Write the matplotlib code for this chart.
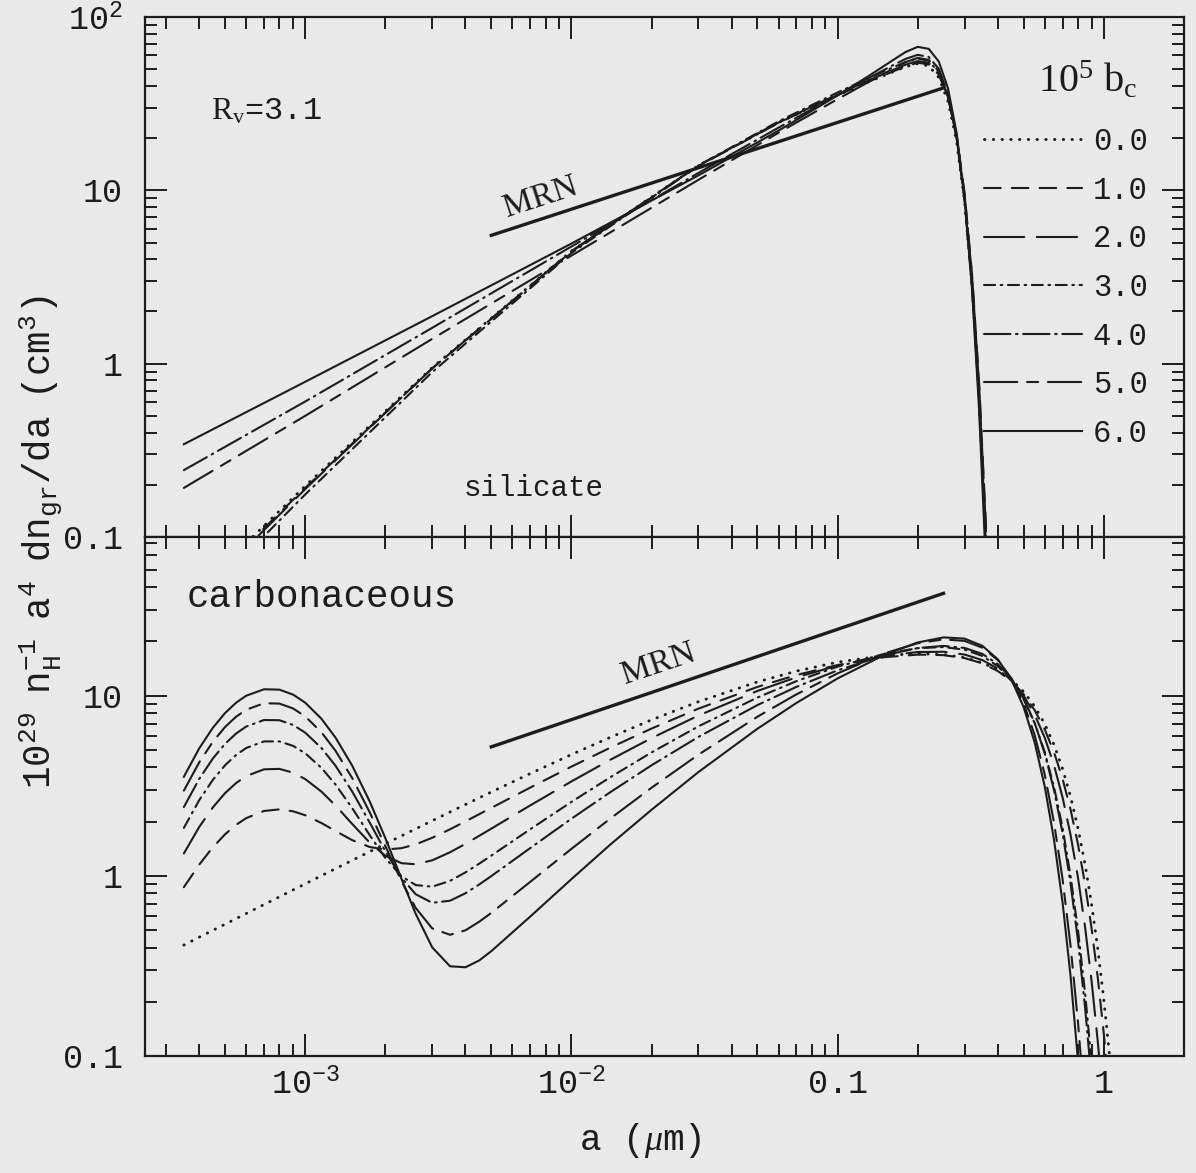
import matplotlib
matplotlib.use("Agg")
import matplotlib.pyplot as plt
from matplotlib.ticker import FixedLocator, FixedFormatter, LogLocator, NullFormatter

plt.rcParams.update({
    "font.family": "Liberation Mono",
    "mathtext.fontset": "custom",
    "mathtext.rm": "Liberation Serif",
    "mathtext.it": "Liberation Serif:italic",
    "mathtext.tt": "Liberation Mono",
    "mathtext.bf": "Liberation Serif:bold",
    "lines.scale_dashes": False,
    "axes.linewidth": 1.6,
})
INK = "#1c1c1c"
PAPER = "#e9e9e9"

# ---- silicate panel (grain radius in micron) ----
a_sil = [3.5e-4, 1e-3, 3e-3, 1e-2, 3e-2, 0.06, 0.1, 0.13, 0.16, 0.18, 0.2,
         0.22, 0.24, 0.26, 0.28, 0.3, 0.32, 0.34, 0.36, 0.38]
sil_00 = [0.0413, 0.197, 0.949, 4.46, 13.9, 24.6, 35.4, 42.1, 48.0, 51.6, 53.9,
          52.2, 44.8, 32.5, 19.1, 8.58, 2.84, 0.655, 0.101, 0.0099]
sil_10 = [0.0396, 0.192, 0.939, 4.43, 13.8, 24.5, 35.4, 42.2, 48.2, 51.9, 54.5,
          53.3, 46.5, 34.4, 20.7, 9.58, 3.28, 0.786, 0.126, 0.013]
sil_20 = [0.0379, 0.189, 0.940, 4.46, 13.9, 24.6, 35.8, 42.9, 49.2, 53.1, 55.7,
          54.4, 47.2, 34.7, 20.6, 9.45, 3.18, 0.751, 0.119, 0.0119]
sil_30 = [0.0345, 0.176, 0.894, 4.35, 13.9, 25.0, 36.7, 44.1, 50.9, 55.0, 57.6,
          55.9, 47.9, 34.6, 20.1, 8.97, 2.93, 0.666, 0.101, 0.0096]
sil_40 = [0.243, 0.605, 1.61, 4.74, 12.6, 23.0, 35.5, 44.2, 52.3, 57.3, 60.5,
          58.8, 50.2, 35.9, 20.5, 8.96, 2.84, 0.625, 0.091, 0.0083]
sil_50 = [0.192, 0.50, 1.39, 4.20, 11.5, 21.5, 33.6, 42.0, 49.9, 54.9, 58.1,
          56.6, 48.4, 34.7, 19.9, 8.7, 2.77, 0.61, 0.089, 0.008]
sil_60 = [0.343, 0.786, 1.88, 4.93, 12.2, 22.1, 35.3, 45.4, 55.9, 62.8, 67.3,
          65.5, 55.3, 38.7, 21.4, 8.90, 2.66, 0.545, 0.073, 0.0061]

# ---- carbonaceous panel ----
a_carb = [3.5e-4, 4e-4, 4.5e-4, 5e-4, 5.5e-4, 6e-4, 7e-4, 8e-4, 9e-4, 1e-3,
          1.15e-3, 1.3e-3, 1.5e-3, 1.75e-3, 2e-3, 2.3e-3, 2.6e-3, 3e-3, 3.5e-3,
          4e-3, 4.5e-3, 5e-3, 7e-3, 1e-2, 1.4e-2, 2e-2, 3e-2, 5e-2, 7e-2, 0.1, 0.15,
          0.2, 0.25, 0.3, 0.35, 0.4, 0.45, 0.5, 0.55, 0.6, 0.65, 0.7, 0.75, 0.8,
          0.85, 0.9, 0.95, 1.0, 1.05, 1.1]
carb_00 = [0.413, 0.457, 0.499, 0.539, 0.579, 0.618, 0.693, 0.765, 0.835, 0.903,
           1.002, 1.097, 1.219, 1.365, 1.506, 1.668, 1.824, 2.024, 2.262,
           2.490, 2.709, 2.919, 3.695, 4.712, 5.877, 7.34, 9.26, 11.93, 13.69, 15.35, 16.72,
           17.13, 16.92, 16.26, 15.22, 13.86, 12.26, 10.53, 8.73, 6.97, 5.35, 3.93, 2.76, 1.84,
           1.163, 0.695, 0.391, 0.206, 0.102, 0.047]
carb_10 = [0.865, 1.156, 1.443, 1.702, 1.920, 2.091, 2.292, 2.339, 2.283, 2.170,
           1.966, 1.774, 1.580, 1.445, 1.401, 1.425, 1.496, 1.627, 1.814,
           2.007, 2.198, 2.384, 3.089, 4.04, 5.147, 6.572, 8.475, 11.19, 13.02, 14.80, 16.36,
           16.90, 16.79, 16.17, 15.12, 13.70, 12.02, 10.19, 8.31, 6.50, 4.86, 3.46, 2.34, 1.497,
           0.902, 0.51, 0.27, 0.133, 0.061, 0.025]
carb_20 = [1.331, 1.871, 2.402, 2.880, 3.276, 3.578, 3.903, 3.924, 3.741, 3.446,
           2.938, 2.457, 1.945, 1.525, 1.293, 1.176, 1.160, 1.220, 1.352,
           1.506, 1.667, 1.828, 2.460, 3.343, 4.409, 5.816, 7.76, 10.63, 12.64, 14.69, 16.64,
           17.48, 17.53, 16.92, 15.76, 14.13, 12.15, 10.01, 7.85, 5.85, 4.12, 2.73, 1.69, 0.978,
           0.524, 0.26, 0.119, 0.05, 0.019, 0.007]
carb_30 = [1.846, 2.637, 3.415, 4.113, 4.689, 5.124, 5.577, 5.574, 5.267, 4.791,
           3.979, 3.211, 2.382, 1.676, 1.256, 0.995, 0.889, 0.871, 0.938,
           1.046, 1.168, 1.295, 1.814, 2.573, 3.527, 4.844, 6.76, 9.77, 12.04, 14.49, 17.08,
           18.35, 18.62, 18.0, 16.61, 14.58, 12.13, 9.54, 7.05, 4.86, 3.12, 1.85, 1.0, 0.50,
           0.226, 0.092, 0.034, 0.011, 0.003, 0.001]
carb_40 = [2.409, 3.456, 4.485, 5.408, 6.168, 6.741, 7.329, 7.309, 6.884, 6.235,
           5.129, 4.082, 2.946, 1.967, 1.369, 0.977, 0.791, 0.709, 0.728,
           0.801, 0.895, 0.997, 1.426, 2.076, 2.915, 4.11, 5.905, 8.87, 11.19, 13.83, 16.76,
           18.38, 18.9, 18.41, 17.05, 14.96, 12.41, 9.68, 7.06, 4.79, 3.0, 1.73, 0.91, 0.436,
           0.188, 0.073, 0.025, 0.008, 0.002, 0.0005]
carb_50 = [2.972, 4.275, 5.556, 6.703, 7.647, 8.356, 9.080, 9.042, 8.498, 7.673,
           6.272, 4.944, 3.498, 2.242, 1.463, 0.934, 0.664, 0.511, 0.471,
           0.499, 0.556, 0.623, 0.926, 1.412, 2.080, 3.084, 4.706, 7.645, 10.17, 13.30, 17.17,
           19.56, 20.54, 20.14, 18.46, 15.76, 12.46, 9.08, 6.05, 3.65, 1.98, 0.96, 0.41, 0.154,
           0.05, 0.014, 0.003, 0.0006, 0.0001, 0.00002]
carb_60 = [3.548, 5.109, 6.643, 8.016, 9.146, 9.994, 10.855, 10.803, 10.143, 9.146,
           7.455, 5.850, 4.100, 2.574, 1.620, 0.963, 0.616, 0.401, 0.315,
           0.311, 0.339, 0.382, 0.594, 0.959, 1.492, 2.327, 3.768, 6.558, 9.109, 12.47, 16.85,
           19.75, 21.07, 20.74, 18.91, 15.90, 12.28, 8.64, 5.50, 3.137, 1.59, 0.713, 0.279, 0.094,
           0.027, 0.007, 0.0015, 0.0003, 0.00005, 0.00001]

# MRN reference power laws
mrn_a = [0.005, 0.25]
mrn_sil = [5.5, 39.0]
mrn_carb = [5.2, 37.0]

bc_labels = ["0.0", "1.0", "2.0", "3.0", "4.0", "5.0", "6.0"]
dash_styles = [(0, (0.3, 6.0)), (0, (12, 8)), (0, (29, 9)), (0, (8, 4, 1.2, 4)),
               (0, (19, 4, 1.2, 4)), (0, (24, 7, 8, 7)), "-"]
line_widths = [2.1, 1.5, 1.5, 1.5, 1.5, 1.5, 1.5]

sil_series = [sil_00, sil_10, sil_20, sil_30, sil_40, sil_50, sil_60]
carb_series = [carb_00, carb_10, carb_20, carb_30, carb_40, carb_50, carb_60]

fig = plt.figure(figsize=(11.96, 11.73), dpi=100, facecolor=PAPER)
ax1 = fig.add_axes([0.1212, 0.5422, 0.8687, 0.4433])
ax2 = fig.add_axes([0.1212, 0.0997, 0.8687, 0.4425])

handles = []
for vals, ls, w in zip(sil_series, dash_styles, line_widths):
    h, = ax1.plot(a_sil, vals, ls=ls, color=INK, lw=w, dash_capstyle="round")
    handles.append(h)
for vals, ls, w in zip(carb_series, dash_styles, line_widths):
    ax2.plot(a_carb, vals, ls=ls, color=INK, lw=w, dash_capstyle="round")
ax1.plot(mrn_a, mrn_sil, "-", color=INK, lw=2.4)
ax2.plot(mrn_a, mrn_carb, "-", color=INK, lw=2.4)

for ax in (ax1, ax2):
    ax.set_facecolor(PAPER)
    ax.set_xscale("log")
    ax.set_yscale("log")
    ax.set_xlim(2.5e-4, 2.0)
    for s in ax.spines.values():
        s.set_color(INK)
    ax.xaxis.set_major_locator(FixedLocator([1e-3, 1e-2, 0.1, 1]))
    ax.xaxis.set_minor_locator(LogLocator(base=10, subs=range(2, 10), numticks=20))
    ax.yaxis.set_minor_locator(LogLocator(base=10, subs=range(2, 10), numticks=20))
    ax.xaxis.set_minor_formatter(NullFormatter())
    ax.yaxis.set_minor_formatter(NullFormatter())
    ax.tick_params(which="both", direction="in", top=True, right=True,
                   color=INK, width=1.4, labelcolor=INK)
    ax.tick_params(which="major", length=16, labelsize=24)
    ax.tick_params(which="minor", length=8.5)
    ax.tick_params(axis="y", pad=16)
    ax.tick_params(axis="x", pad=9)

ax1.set_ylim(0.1, 100)
ax1.yaxis.set_major_locator(FixedLocator([0.1, 1, 10, 100]))
ax1.yaxis.set_major_formatter(FixedFormatter(["0.1", "1", "10", r"$\mathtt{10^2}$"]))
ax1.tick_params(axis="x", labelbottom=False)

ax2.set_ylim(0.1, 76)
ax2.yaxis.set_major_locator(FixedLocator([0.1, 1, 10]))
ax2.yaxis.set_major_formatter(FixedFormatter(["0.1", "1", "10"]))
ax2.xaxis.set_major_formatter(FixedFormatter(
    [r"$\mathtt{10^{-3}}$", r"$\mathtt{10^{-2}}$", "0.1", "1"]))

# annotations
ax1.text(0.117, 0.818, r"$\mathrm{R_v}$=3.1", transform=ax1.transAxes,
         ha="center", va="center", fontsize=23, color=INK)
ax1.text(0.381, 0.654, "MRN", transform=ax1.transAxes, family="Liberation Serif",
         ha="center", va="center", fontsize=24, rotation=18, rotation_mode="anchor", color=INK)
ax1.text(0.374, 0.094, "silicate", transform=ax1.transAxes,
         ha="center", va="center", fontsize=21, color=INK)
ax2.text(0.170, 0.884, "carbonaceous", transform=ax2.transAxes,
         ha="center", va="center", fontsize=27, color=INK)
ax2.text(0.494, 0.755, "MRN", transform=ax2.transAxes, family="Liberation Serif",
         ha="center", va="center", fontsize=24, rotation=18.5, rotation_mode="anchor", color=INK)
ax1.text(0.9076, 0.879, r"$\mathrm{10^5\ b_c}$", transform=ax1.transAxes,
         ha="center", va="center", fontsize=29, color=INK)

leg = ax1.legend(handles, bc_labels, loc="upper right",
                 bbox_to_anchor=(0.965, 0.7885), frameon=False, handlelength=3.2,
                 handletextpad=0.35, labelspacing=0.61,
                 fontsize=22, borderpad=0, borderaxespad=0)
for t in leg.get_texts():
    t.set_color(INK)

fig.text(0.034, 0.538,
         r"$\mathtt{10^{29}\ \ n_H^{-1}\ \ a^4\ \ dn_{gr}/da\ \ (cm^3)}$",
         rotation=90, ha="center", va="center", fontsize=27, color=INK)
fig.text(0.535, 0.028, r"a ($\mu$m)", ha="center", va="center", fontsize=26, color=INK)

fig.savefig("out.png", dpi=100, facecolor=PAPER)
